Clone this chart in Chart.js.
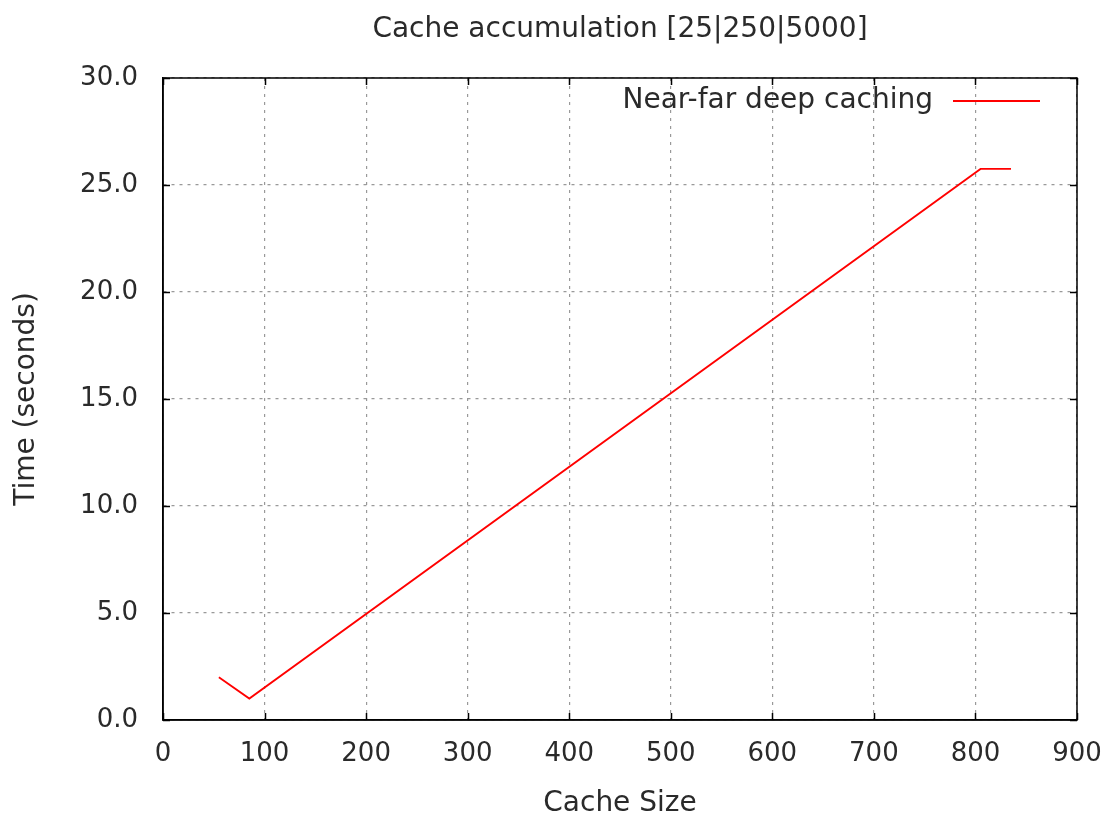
<!DOCTYPE html>
<html>
<head>
<meta charset="utf-8">
<script src="https://cdn.jsdelivr.net/npm/chart.js@4/dist/chart.umd.min.js"></script>
<style>
  html, body { margin: 0; padding: 0; background: #ffffff; }
  #wrap { width: 1112px; height: 817px; }
</style>
</head>
<body>
<div id="wrap"><canvas id="c" width="1112" height="817"></canvas></div>
<script>
// Near-far deep caching: time taken against cache size
const cacheSizes = [55, 85, 805, 835];
const times = [2.0, 1.0, 25.75, 25.75];
const seriesLabel = 'Near-far deep caching';
const chartTitle = 'Cache accumulation [25|250|5000]';
const xTitle = 'Cache Size';
const yTitle = 'Time (seconds)';

const FONT = 'DejaVu Sans';
const TEXT = '#2a2a2a';

// gnuplot-style frame: full border box with inward ticks on all four sides
const framePlugin = {
  id: 'frame',
  afterDatasetsDraw(chart) {
    const { ctx, chartArea: a, scales } = chart;
    const len = 7;
    ctx.save();
    ctx.strokeStyle = '#000000';
    ctx.lineWidth = 1.5;
    ctx.beginPath();
    scales.x.ticks.forEach(t => {
      const px = Math.round(scales.x.getPixelForValue(t.value)) + 0.5;
      ctx.moveTo(px, a.bottom); ctx.lineTo(px, a.bottom - len);
      ctx.moveTo(px, a.top); ctx.lineTo(px, a.top + len);
    });
    scales.y.ticks.forEach(t => {
      const py = Math.round(scales.y.getPixelForValue(t.value)) + 0.5;
      ctx.moveTo(a.left, py); ctx.lineTo(a.left + len, py);
      ctx.moveTo(a.right, py); ctx.lineTo(a.right - len, py);
    });
    ctx.stroke();
    ctx.strokeRect(a.left, a.top, a.right - a.left, a.bottom - a.top);
    ctx.restore();
  }
};

// Key in the top-right corner of the plot: label first, line sample after it
const keyPlugin = {
  id: 'key',
  afterDraw(chart) {
    const { ctx, chartArea: a } = chart;
    const ds = chart.data.datasets[0];
    const sampleRight = a.right - 37;
    const sampleLeft = sampleRight - 87;
    const y = a.top + 23;
    ctx.save();
    ctx.font = 'normal 28px "' + FONT + '"';
    ctx.fillStyle = TEXT;
    ctx.textAlign = 'right';
    ctx.textBaseline = 'middle';
    ctx.fillText(ds.label, sampleLeft - 20, y);
    ctx.strokeStyle = ds.borderColor;
    ctx.lineWidth = ds.borderWidth;
    ctx.beginPath();
    ctx.moveTo(sampleLeft, y);
    ctx.lineTo(sampleRight, y);
    ctx.stroke();
    ctx.restore();
  }
};

new Chart(document.getElementById('c'), {
  type: 'line',
  data: {
    datasets: [{
      label: seriesLabel,
      data: cacheSizes.map((x, i) => ({ x: x, y: times[i] })),
      borderColor: '#ff0000',
      backgroundColor: '#ff0000',
      borderWidth: 1.8,
      pointRadius: 0,
      tension: 0,
      fill: false
    }]
  },
  options: {
    responsive: false,
    animation: false,
    layout: { padding: { left: 0, right: 35, top: 0, bottom: 0 } },
    plugins: {
      title: {
        display: true,
        fullSize: false,
        text: chartTitle,
        color: TEXT,
        font: { family: FONT, size: 28, weight: 'normal' },
        padding: { top: 13, bottom: 31.4 }
      },
      legend: { display: false },
      tooltip: { enabled: false }
    },
    scales: {
      x: {
        type: 'linear',
        min: 0,
        max: 900,
        afterFit(scale) {
          scale.height = 97;
          scale.paddingLeft = 0;
          scale.paddingRight = 0;
        },
        ticks: {
          stepSize: 100,
          color: TEXT,
          padding: 19,
          font: { family: FONT, size: 26 }
        },
        grid: {
          color: '#999999',
          lineWidth: 1.2,
          drawTicks: false
        },
        border: { display: true, color: '#000000', width: 1.5, dash: [3, 5] },
        title: {
          display: true,
          text: xTitle,
          color: TEXT,
          font: { family: FONT, size: 28 },
          padding: { top: 0, bottom: -4 }
        }
      },
      y: {
        type: 'linear',
        min: 0,
        max: 30,
        afterFit(scale) { scale.width = 163; },
        ticks: {
          stepSize: 5,
          color: TEXT,
          padding: 25,
          font: { family: FONT, size: 26 },
          callback: v => Number(v).toFixed(1)
        },
        grid: {
          color: '#999999',
          lineWidth: 1.2,
          drawTicks: false
        },
        border: { display: true, color: '#000000', width: 1.5, dash: [3, 5] },
        title: {
          display: true,
          text: yTitle,
          color: TEXT,
          font: { family: FONT, size: 28 },
          padding: { top: 10, bottom: 0 }
        }
      }
    }
  },
  plugins: [framePlugin, keyPlugin]
});
</script>
</body>
</html>
